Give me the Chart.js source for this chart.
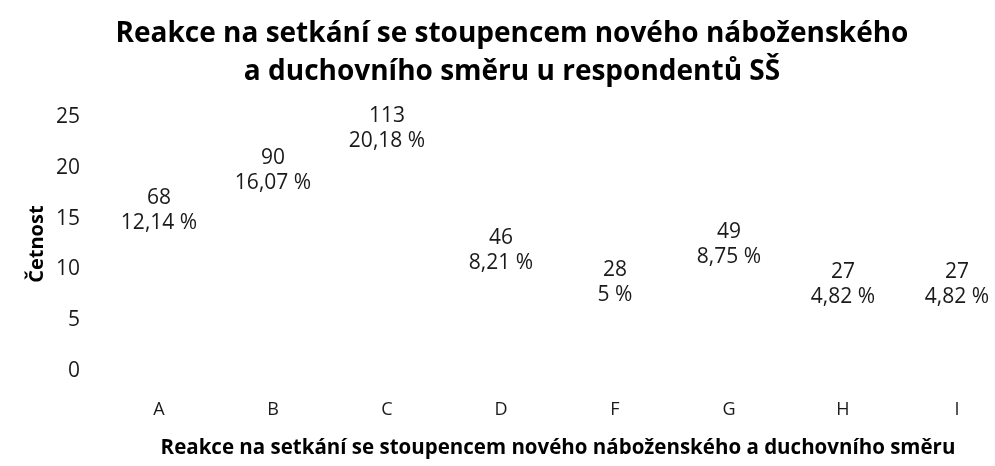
<!DOCTYPE html>
<html>
<head>
<meta charset="utf-8">
<script src="https://cdn.jsdelivr.net/npm/chart.js@4"></script>
<style>
  html, body { margin: 0; padding: 0; background: #fff; overflow: hidden; }
  .box { width: 1014px; height: 466px; }
</style>
</head>
<body>
<div class="box"><canvas id="reakce"></canvas></div>
<script>
// data
const categories = ["A", "B", "C", "D", "F", "G", "H", "I"];
const counts = [68, 90, 113, 46, 28, 49, 27, 27];
const percents = [12.14, 16.07, 20.18, 8.21, 5, 8.75, 4.82, 4.82];
const yTicks = [0, 5, 10, 15, 20, 25];

const FONT = "'Open Sans', sans-serif";
Chart.defaults.font.family = FONT;
Chart.defaults.color = "#1a1a1a";

// labels above the (invisible) bars: count + percentage
const barLabels = {
  id: "barLabels",
  afterDatasetsDraw(chart) {
    const ctx = chart.ctx;
    const meta = chart.getDatasetMeta(0);
    ctx.save();
    ctx.font = "21px " + FONT;
    ctx.fillStyle = "#1a1a1a";
    ctx.textAlign = "center";
    ctx.textBaseline = "middle";
    meta.data.forEach((bar, i) => {
      const pct = String(percents[i]).replace(".", ",") + " %";
      ctx.fillText(pct, bar.x, bar.y - 25);
      ctx.fillText(String(counts[i]), bar.x, bar.y - 50);
    });
    ctx.restore();
  }
};

const el = document.getElementById("reakce");

new Chart(el, {
  type: "bar",
  data: {
    labels: categories,
    datasets: [{
      label: "Četnost",
      data: percents,
      backgroundColor: "rgba(0,0,0,0)",
      borderWidth: 0
    }]
  },
  options: {
    responsive: true,
    maintainAspectRatio: false,
    animation: false,
    layout: { padding: { left: 10, right: 0, top: 0, bottom: 0 } },
    plugins: {
      legend: { display: false },
      tooltip: { enabled: false },
      title: {
        display: true,
        text: ["Reakce na setkání se stoupencem nového náboženského", "a duchovního směru u respondentů SŠ"],
        font: { size: 28, weight: "bold", lineHeight: 1.36 },
        color: "#000",
        padding: { top: 15, bottom: 26 }
      }
    },
    scales: {
      y: {
        min: 0,
        max: 25,
        afterBuildTicks: (scale) => {
          scale.ticks = yTicks.map((v) => ({ value: v }));
        },
        afterFit: (scale) => { scale.width = 92; },
        ticks: { font: { size: 21 }, padding: 22, color: "#1a1a1a" },
        grid: { display: false, drawTicks: false },
        border: { display: false },
        title: {
          display: true,
          text: "Četnost",
          font: { size: 20, weight: "bold" },
          color: "#000",
          padding: { top: 15, bottom: 0 }
        }
      },
      x: {
        afterFit: (scale) => { scale.height = 95; },
        ticks: { font: { size: 18 }, padding: 28, color: "#1a1a1a" },
        grid: { display: false, drawTicks: false },
        border: { display: false },
        title: {
          display: true,
          text: "Reakce na setkání se stoupencem nového náboženského a duchovního směru",
          font: { size: 20.5, weight: "bold" },
          color: "#000",
          padding: { top: 0, bottom: 6 }
        }
      }
    }
  },
  plugins: [barLabels]
});
</script>
</body>
</html>
